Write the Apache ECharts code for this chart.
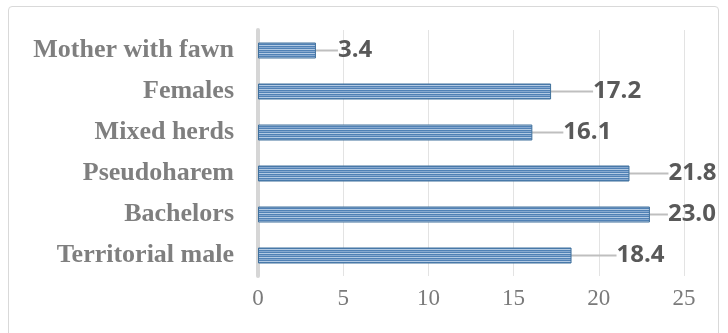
<!DOCTYPE html>
<html>
<head>
<meta charset="utf-8">
<script src="https://cdn.jsdelivr.net/npm/echarts@6/dist/echarts.min.js"></script>
<style>
	html, body { margin: 0; padding: 0; background: #fff; }
	#frame {
		position: absolute; left: 8px; top: 6px; width: 711px; height: 340px;
		border: 1px solid #d9d9d9; border-radius: 4px; box-sizing: border-box;
	}
	#chart { position: absolute; left: 0; top: 0; width: 728px; height: 333px; }
</style>
</head>
<body>
<div id="frame"></div>
<div id="chart"></div>
<script>
// bottom to top, as the value axis category order
const groups = ['Territorial male', 'Bachelors', 'Pseudoharem', 'Mixed herds', 'Females', 'Mother with fawn'];
const values = [18.4, 23.0, 21.8, 16.1, 17.2, 3.4];
const ticks = [0, 5, 10, 15, 20, 25];

// how far each value label sits from its bar end (leader line length)
const labelGaps = [45, 18, 39, 31, 42, 22];

function stripes()
{
	let c = document.createElement('canvas');
	c.width = 4;
	c.height = 4;
	let ctx = c.getContext('2d');
	ctx.fillStyle = '#5081b5';
	ctx.fillRect(0, 0, 4, 4);
	ctx.fillStyle = '#b3cae3';
	ctx.fillRect(0, 1, 4, 1);
	ctx.fillStyle = '#86a8cf';
	ctx.fillRect(0, 3, 4, 1);
	return c;
}

let chart = echarts.init(document.getElementById('chart'));
chart.setOption({
	animation: false,
	grid: { left: 258, right: 44, top: 30, bottom: 57 },
	xAxis: {
		type: 'value',
		min: ticks[0],
		max: ticks[ticks.length - 1],
		interval: 5,
		axisLine: { show: false },
		axisTick: { show: false },
		splitLine: { lineStyle: { color: '#e3e3e3', width: 1 } },
		axisLabel: {
			color: '#7a7a7a',
			fontFamily: 'Liberation Serif',
			fontSize: 23,
			margin: 11
		}
	},
	yAxis: {
		type: 'category',
		data: groups,
		axisTick: { show: false },
		axisLine: { lineStyle: { color: '#d6d6d6', width: 4 } },
		axisLabel: {
			color: '#7f7f7f',
			fontFamily: 'Liberation Serif',
			fontWeight: 'bold',
			fontSize: 26,
			margin: 24
		}
	},
	series: [{
		type: 'bar',
		data: values,
		barWidth: 16,
		itemStyle: {
			color: { image: stripes(), repeat: 'repeat' },
			borderColor: '#41719c',
			borderWidth: 1
		},
		label: {
			show: true,
			position: 'right',
			distance: 0,
			formatter: p => p.value.toFixed(1),
			color: '#595959',
			fontFamily: 'Open Sans',
			fontWeight: 'bold',
			fontSize: 24
		},
		labelLine: { show: true, lineStyle: { color: '#bfbfbf', width: 2 } },
		labelLayout: p => ({ dx: labelGaps[p.dataIndex] })
	}]
});
</script>
</body>
</html>
